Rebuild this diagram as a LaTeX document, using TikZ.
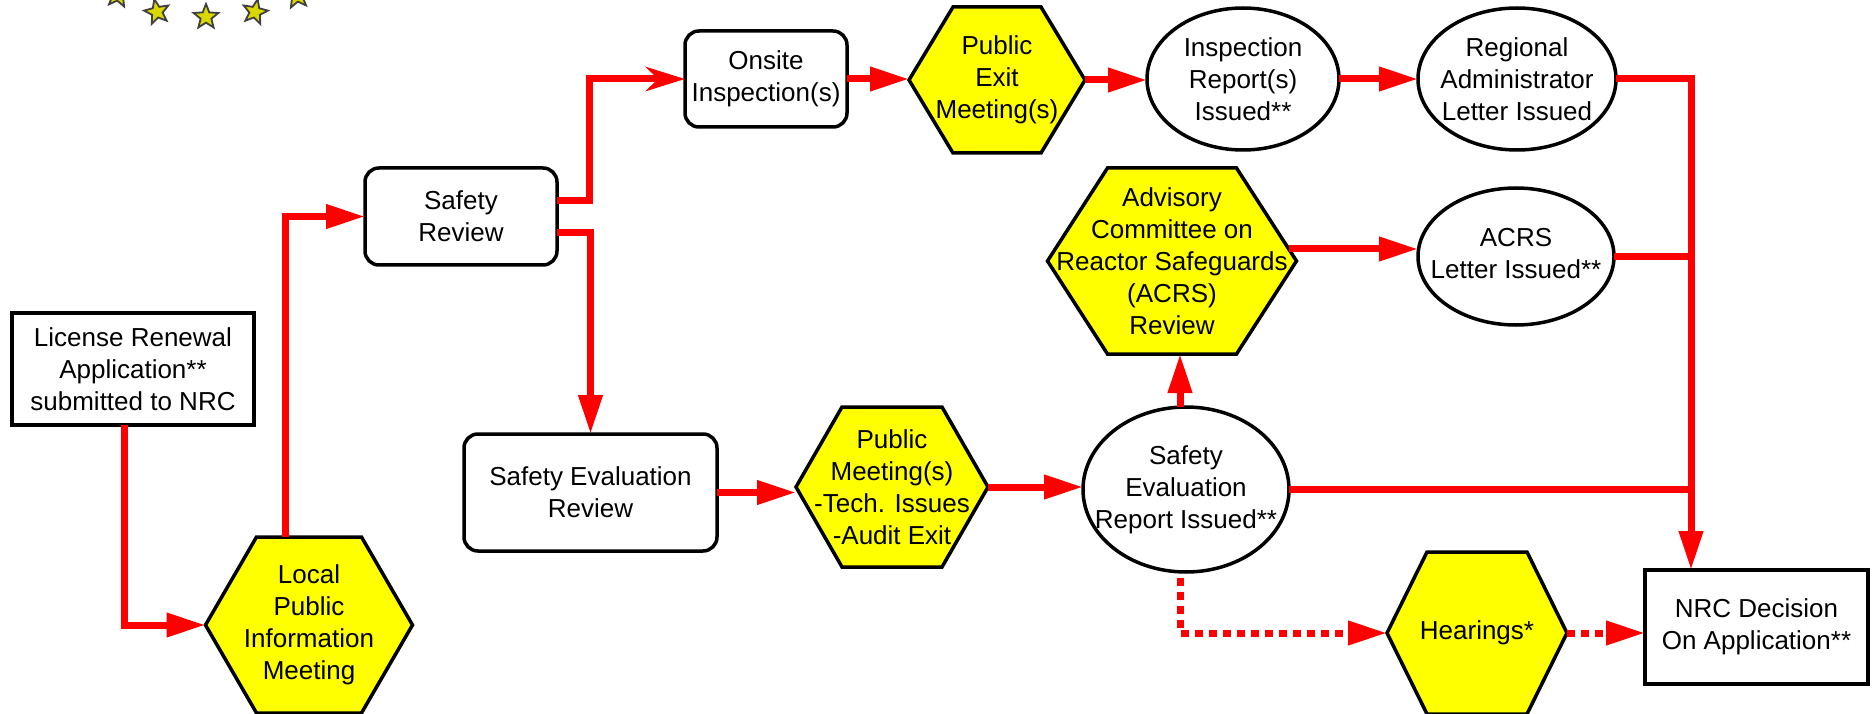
\documentclass[tikz,border=0pt]{standalone}
\usepackage{fontspec}
\setmainfont{Liberation Sans}
\usetikzlibrary{arrows.meta,shapes.geometric,backgrounds,calc}
\definecolor{hexyellow}{RGB}{255,255,0}
\definecolor{linered}{RGB}{255,0,0}
\newcommand{\hexoutline}[2]{%
  \begin{scope}[on background layer]
    \path[hexline] (#1.west) -- ([xshift=#2]#1.north west) -- ([xshift=-#2]#1.north east) -- (#1.east) -- ([xshift=-#2]#1.south east) -- ([xshift=#2]#1.south west) -- cycle;
  \end{scope}}
\begin{document}
\begin{tikzpicture}[x=1pt,y=-1pt,
  font=\fontsize{26}{32}\selectfont,
  every node/.style={inner sep=-40pt, outer sep=0pt, align=center},
  blk/.style={draw=black, line width=3.5pt, fill=white},
  sqbox/.style={blk, rectangle},
  rbox/.style={blk, rectangle, rounded corners=14pt},
  oval/.style={blk, ellipse},
  hexbox/.style={rectangle},
  hexline/.style={draw=black, line width=3.5pt, fill=hexyellow, line join=miter},
  redline/.style={draw=linered, line width=7pt},
  arr/.style={redline, -{Triangle[length=39pt,width=23pt]}},
  arrS/.style={redline, -{Stealth[length=39pt,width=24pt,inset=12pt]}},
  dotarr/.style={redline, dash pattern=on 8pt off 6pt, -{Triangle[length=39pt,width=23pt]}},
  staricon/.style={star, star points=5, star point ratio=2.3, fill=hexyellow!85!black, draw=black!75, line width=1.8pt, minimum size=26pt, inner sep=0pt}
]
\useasboundingbox (0,0) rectangle (1875,714);

% stars of the logo
\node[staricon, rotate=-8] (s1) at (118,-5) {};
\node[staricon, rotate=12] (s2) at (157,12) {};
\node[staricon, rotate=0] (s3) at (206,17) {};
\node[staricon, rotate=-12] (s4) at (255,12) {};
\node[staricon, rotate=8] (s5) at (297,-4) {};

% nodes
\node[sqbox, minimum width=242pt, minimum height=112pt] (lic) at (133,369) {License Renewal\\Application**\\submitted to NRC};
\node[hexbox, minimum width=207pt, minimum height=176pt] (loc) at (309,625) {Local\\Public\\Information\\Meeting};
\hexoutline{loc}{51pt}
\node[rbox, minimum width=192pt, minimum height=97pt] (sr) at (461,216.5) {Safety\\Review};
\node[rbox, minimum width=162pt, minimum height=96pt] (ons) at (766,79) {Onsite\\Inspection(s)};
\node[hexbox, minimum width=176pt, minimum height=146pt] (pex) at (997,80) {Public\\Exit\\Meeting(s)};
\hexoutline{pex}{44pt}
\node[oval, minimum width=192pt, minimum height=142pt] (irep) at (1243,79) {Inspection\\Report(s)\\Issued**};
\node[oval, minimum width=198pt, minimum height=142pt] (reg) at (1517,79) {Regional\\Administrator\\Letter Issued};
\node[hexbox, minimum width=249pt, minimum height=186pt] (acrs) at (1172,261) {Advisory\\Committee on\\Reactor Safeguards\\(ACRS)\\Review};
\hexoutline{acrs}{60pt}
\node[oval, minimum width=196pt, minimum height=137pt] (alet) at (1516,256.5) {\raisebox{5pt}{\begin{tabular}{@{}c@{}}ACRS\\Letter Issued**\end{tabular}}};
\node[rbox, minimum width=253pt, minimum height=117pt] (serv) at (590.5,492.5) {Safety Evaluation\\Review};
\node[hexbox, minimum width=192pt, minimum height=160pt] (pmt) at (892,487) {Public\\Meeting(s)\\-Tech. Issues\\-Audit Exit};
\hexoutline{pmt}{46pt}
\node[oval, minimum width=206pt, minimum height=165pt] (ser) at (1186,489.5) {Safety\\Evaluation\\Report Issued**};
\node[hexbox, minimum width=180pt, minimum height=162pt] (hear) at (1477,633) {Hearings*};
\hexoutline{hear}{40pt}
\node[sqbox, minimum width=223pt, minimum height=114pt] (nrc) at (1756.5,627) {NRC Decision\\On Application**};

% helper coordinates
\coordinate (bus) at (1691,300);
\coordinate (licout) at ([xshift=-9pt]lic.south);
\coordinate (locout) at ([xshift=-24pt]loc.north);
\coordinate (srup) at ([yshift=16pt]sr.east);
\coordinate (srdn) at ([yshift=-16pt]sr.east);
\coordinate (acrsout) at ([xshift=-8pt,yshift=12pt]acrs.east);
\coordinate (sertop) at ([xshift=-6pt]ser.north);
\coordinate (serbot) at ([xshift=-6pt,yshift=-6pt]ser.south);

% connectors
\draw[arr] (licout) |- (loc.west);
\draw[arr] (locout) |- (sr.west);
\draw[arrS] (srup) -- ++(32,0) |- (ons.west);
\draw[arr] (srdn) -| (serv.north);
\draw[arr] (ons.east) -- (ons.east -| pex.west);
\draw[arr] (pex.east) -- (pex.east -| irep.west);
\draw[arr] (irep.east) -- (irep.east -| reg.west);
\draw[arr] (reg.east) -| (bus |- nrc.north);
\draw[arr] (acrsout) -- (acrsout -| alet.west);
\draw[redline] (alet.east) -- (alet.east -| bus);
\draw[redline] (ser.east) -- (ser.east -| bus);
\draw[arr] (serv.east) -- (serv.east -| pmt.west);
\draw[arr] (pmt.east) -- (pmt.east -| ser.west);
\draw[arr] (sertop) -- (sertop |- acrs.south);
\draw[dotarr] (serbot) |- (hear.west);
\draw[dotarr] (hear.east) -- (hear.east -| nrc.west);
\end{tikzpicture}
\end{document}
